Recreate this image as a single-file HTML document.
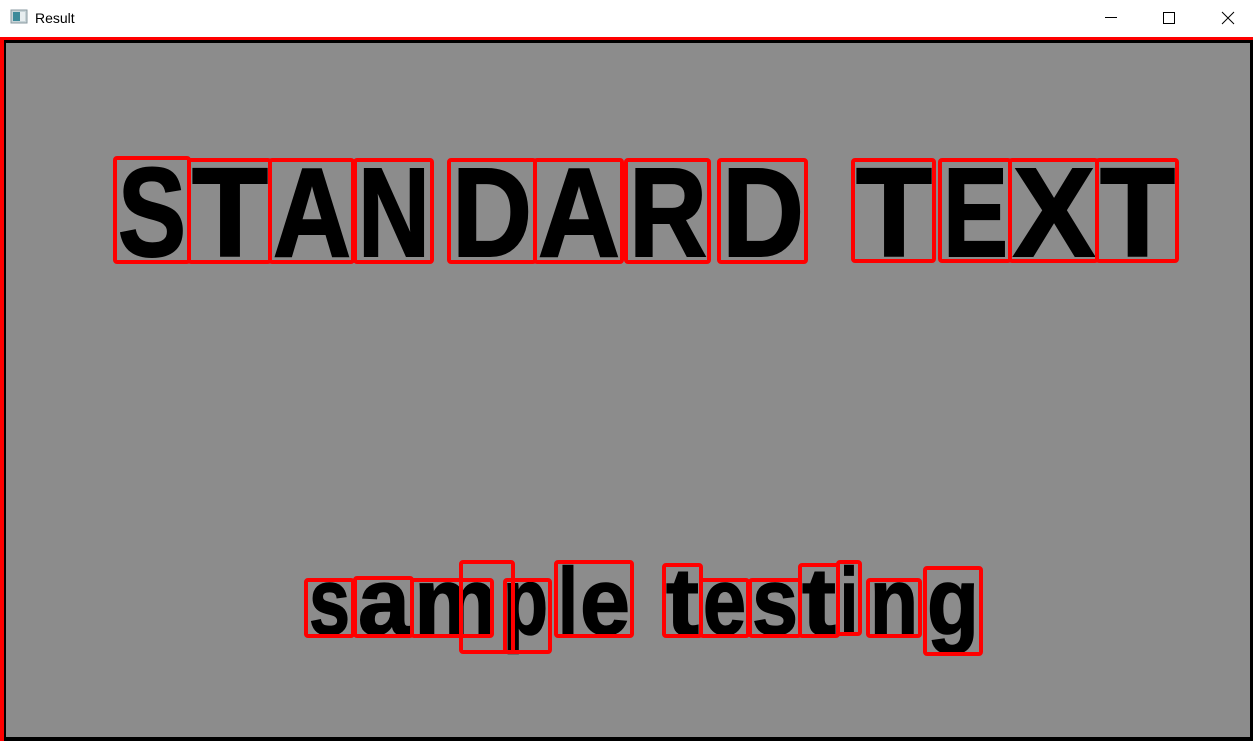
<!DOCTYPE html>
<html><head><meta charset="utf-8"><style>
html,body{margin:0;padding:0;width:1253px;height:741px;overflow:hidden;background:#fff;}
</style></head><body>
<svg width="1253" height="741" xmlns="http://www.w3.org/2000/svg">
<rect x="0" y="0" width="1253" height="37" fill="#fff"/>
<rect x="11" y="10" width="16" height="13" fill="#c8d4d8" stroke="#8a9aa0" stroke-width="1"/>
<rect x="13" y="12" width="7" height="9" fill="#3c8a9a"/>
<rect x="20" y="12" width="5" height="9" fill="#e8eef0"/>
<text x="35" y="23" font-family="Liberation Sans, sans-serif" font-size="14" fill="#000">Result</text>
<line x1="1105" y1="17.5" x2="1117" y2="17.5" stroke="#000" stroke-width="1"/>
<rect x="1163.5" y="12.5" width="11" height="11" fill="none" stroke="#000" stroke-width="1"/>
<path d="M1222 12 L1234 24 M1234 12 L1222 24" stroke="#000" stroke-width="1"/>
<rect x="0" y="37" width="1253" height="704" fill="#f00"/>
<rect x="4" y="40" width="1249" height="701" fill="#000"/>
<rect x="6" y="43" width="1244" height="694" fill="#8c8c8c"/>
<g font-family="Liberation Sans, sans-serif" font-weight="bold" fill="#000" stroke="#000" stroke-width="2" font-size="126" lengthAdjust="spacingAndGlyphs">
<text x="118" y="256" textLength="68" lengthAdjust="spacingAndGlyphs">S</text>
<text x="192" y="256" textLength="76" lengthAdjust="spacingAndGlyphs">T</text>
<text x="273" y="256" textLength="78" lengthAdjust="spacingAndGlyphs">A</text>
<text x="358" y="256" textLength="72" lengthAdjust="spacingAndGlyphs">N</text>
<text x="452" y="256" textLength="80" lengthAdjust="spacingAndGlyphs">D</text>
<text x="538" y="256" textLength="82" lengthAdjust="spacingAndGlyphs">A</text>
<text x="629" y="256" textLength="78" lengthAdjust="spacingAndGlyphs">R</text>
<text x="722" y="256" textLength="82" lengthAdjust="spacingAndGlyphs">D</text>
<text x="856" y="256" textLength="76" lengthAdjust="spacingAndGlyphs">T</text>
<text x="943" y="256" textLength="65" lengthAdjust="spacingAndGlyphs">E</text>
<text x="1013" y="256" textLength="82" lengthAdjust="spacingAndGlyphs">X</text>
<text x="1100" y="256" textLength="75" lengthAdjust="spacingAndGlyphs">T</text>
</g>
<g font-family="Liberation Sans, sans-serif" font-weight="bold" fill="#000" stroke="#000" stroke-width="1.5" font-size="95">
<text x="309" y="634" textLength="41" lengthAdjust="spacingAndGlyphs">s</text>
<text x="358" y="634" textLength="52" lengthAdjust="spacingAndGlyphs">a</text>
<text x="414" y="634" textLength="84" lengthAdjust="spacingAndGlyphs">m</text>
<text x="503" y="634" textLength="45" lengthAdjust="spacingAndGlyphs">p</text>
<text x="558" y="634" textLength="20" lengthAdjust="spacingAndGlyphs">l</text>
<text x="580" y="634" textLength="50" lengthAdjust="spacingAndGlyphs">e</text>
<text x="666" y="634" textLength="33" lengthAdjust="spacingAndGlyphs">t</text>
<text x="703" y="634" textLength="43" lengthAdjust="spacingAndGlyphs">e</text>
<text x="752" y="634" textLength="46" lengthAdjust="spacingAndGlyphs">s</text>
<text x="802" y="634" textLength="34" lengthAdjust="spacingAndGlyphs">t</text>
<text x="840" y="634" textLength="18" lengthAdjust="spacingAndGlyphs">i</text>
<text x="870" y="634" textLength="48" lengthAdjust="spacingAndGlyphs">n</text>
<text x="927" y="634" textLength="52" lengthAdjust="spacingAndGlyphs">g</text>
</g>
<g fill="none" stroke="#f00" stroke-width="4">
<rect x="115" y="158" width="74" height="104" rx="2"/>
<rect x="189" y="160" width="81" height="102" rx="2"/>
<rect x="270" y="160" width="83" height="102" rx="2"/>
<rect x="355" y="160" width="77" height="102" rx="2"/>
<rect x="449" y="160" width="86" height="102" rx="2"/>
<rect x="535" y="160" width="87" height="102" rx="2"/>
<rect x="626" y="160" width="83" height="102" rx="2"/>
<rect x="719" y="160" width="87" height="102" rx="2"/>
<rect x="853" y="160" width="81" height="101" rx="2"/>
<rect x="940" y="160" width="70" height="101" rx="2"/>
<rect x="1010" y="160" width="87" height="101" rx="2"/>
<rect x="1097" y="160" width="80" height="101" rx="2"/>
<rect x="306" y="580" width="47" height="56" rx="2"/>
<rect x="355" y="578" width="57" height="58" rx="2"/>
<rect x="412" y="580" width="80" height="56" rx="2"/>
<rect x="461" y="562" width="52" height="90" rx="2"/>
<rect x="505" y="580" width="45" height="72" rx="2"/>
<rect x="556" y="562" width="76" height="74" rx="2"/>
<rect x="664" y="565" width="37" height="71" rx="2"/>
<rect x="701" y="580" width="47" height="56" rx="2"/>
<rect x="750" y="580" width="50" height="56" rx="2"/>
<rect x="800" y="565" width="38" height="71" rx="2"/>
<rect x="838" y="562" width="22" height="72" rx="2"/>
<rect x="868" y="580" width="52" height="56" rx="2"/>
<rect x="925" y="568" width="56" height="86" rx="2"/>
</g>
</svg>
</body></html>
